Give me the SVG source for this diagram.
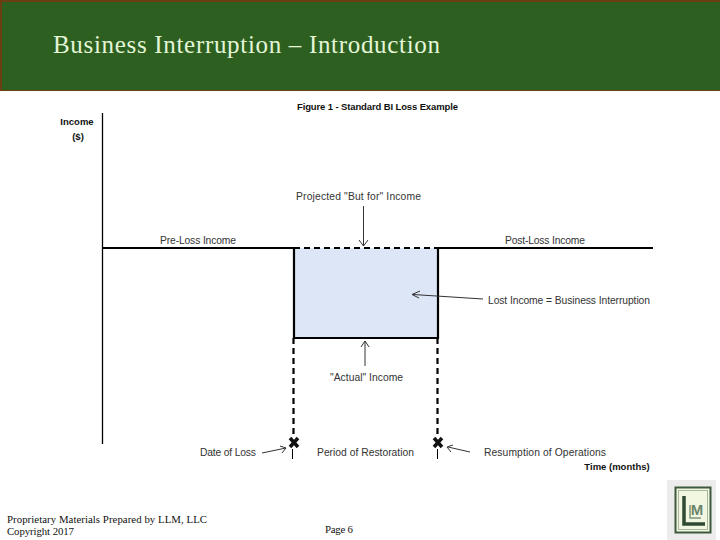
<svg xmlns="http://www.w3.org/2000/svg" width="720" height="540" viewBox="0 0 720 540">
<style>
.c{font-family:"Liberation Sans",Arial,sans-serif;font-size:10.300px;fill:#333}
.b{font-family:"Liberation Sans",Arial,sans-serif;font-size:9.500px;font-weight:bold;fill:#111}
.f{font-family:"Liberation Serif","Times New Roman",serif;font-size:10.800px;fill:#111}
.s{stroke:#000;stroke-width:2.200;fill:none}
.d{stroke:#000;stroke-width:2.200;fill:none;stroke-dasharray:6 4}
.a{stroke:#333;stroke-width:1;fill:none}
.x{stroke:#111;stroke-width:3.500;fill:none}
</style>
<g id="header">
<rect x="0" y="0" width="720" height="91" fill="#6b3f14"/>
<rect x="2" y="2" width="718" height="88" fill="#2d6020"/>
<text x="53" y="53" font-family="'Liberation Serif','Times New Roman',serif" font-size="25" fill="#e4f5d8" textLength="387" lengthAdjust="spacing">Business Interruption – Introduction</text>
</g>
<g id="chart-title"><text class="b" x="297" y="110" textLength="161">Figure 1 - Standard BI Loss Example</text></g>
<g id="axis-y-label"><text class="b" x="77" y="125" text-anchor="middle">Income</text><text class="b" x="78" y="140" text-anchor="middle">($)</text></g>
<g id="loss-box"><rect x="294" y="248" width="144" height="90" fill="#dce6f6"/></g>
<g id="connectors">
<path d="M102.500 113V444" stroke="#000" stroke-width="1.300" fill="none"/>
<path class="s" d="M102 248H294M438 248H653"/>
<path class="d" d="M294 248H438"/>
<path class="s" d="M294 248V338H438V248"/>
<path class="d" d="M293.500 338V437M437.500 338V437"/>
<path d="M292.500 449V459M437.500 449V459" stroke="#000" stroke-width="1" fill="none"/>
<path class="x" d="M290 438L298 447M298 438L290 447M434 438L442 447M442 438L434 447"/>
<path class="a" d="M363.500 206V246M359 240L363.500 246L368 240"/>
<path class="a" d="M483 299L413 294.500M420 291L412 294.500L419 298"/>
<path class="a" d="M365 366V341M361 347L365 341L369 347"/>
<path class="a" d="M262 453L286 448M280 446L286 448L282 453"/>
<path class="a" d="M470 452L448 447M453 445L447 447L451 452"/>
</g>
<g id="labels">
<text class="c" x="198" y="244" text-anchor="middle" textLength="76">Pre-Loss Income</text>
<text class="c" x="545" y="244" text-anchor="middle" textLength="80">Post-Loss Income</text>
<text class="c" x="358.500" y="200" text-anchor="middle" textLength="125">Projected "But for" Income</text>
<text class="c" x="569" y="304" text-anchor="middle" textLength="162">Lost Income = Business Interruption</text>
<text class="c" x="366.500" y="381" text-anchor="middle" textLength="73">"Actual" Income</text>
<text class="c" x="228" y="456" text-anchor="middle" textLength="56">Date of Loss</text>
<text class="c" x="365.500" y="456" text-anchor="middle" textLength="97">Period of Restoration</text>
<text class="c" x="545" y="456" text-anchor="middle" textLength="122">Resumption of Operations</text>
<text class="b" x="617" y="470" text-anchor="middle">Time (months)</text>
</g>
<g id="footer">
<text class="f" x="7" y="523" textLength="200">Proprietary Materials Prepared by LLM, LLC</text>
<text class="f" x="7" y="535" textLength="67">Copyright 2017</text>
<text class="f" x="325" y="533" textLength="28">Page 6</text>
</g>
<g id="logo">
<rect x="667" y="480" width="49" height="60" fill="#ececec"/>
<rect x="675.500" y="487.500" width="35" height="45" fill="#f2f7e2" stroke="#3d5a3d" stroke-width="2"/>
<rect x="678.500" y="490.500" width="29" height="39" fill="none" stroke="#a9b89c" stroke-width="1"/>
<path d="M684 496V524H705" fill="none" stroke="#2f4a32" stroke-width="3.500"/>
<path d="M690 505V518H701" fill="none" stroke="#7c947c" stroke-width="1.500"/>
<text x="697" y="515" text-anchor="middle" font-family="'Liberation Sans',Arial,sans-serif" font-size="15" font-weight="bold" fill="#6a856a" textLength="12">M</text>
</g>
</svg>
